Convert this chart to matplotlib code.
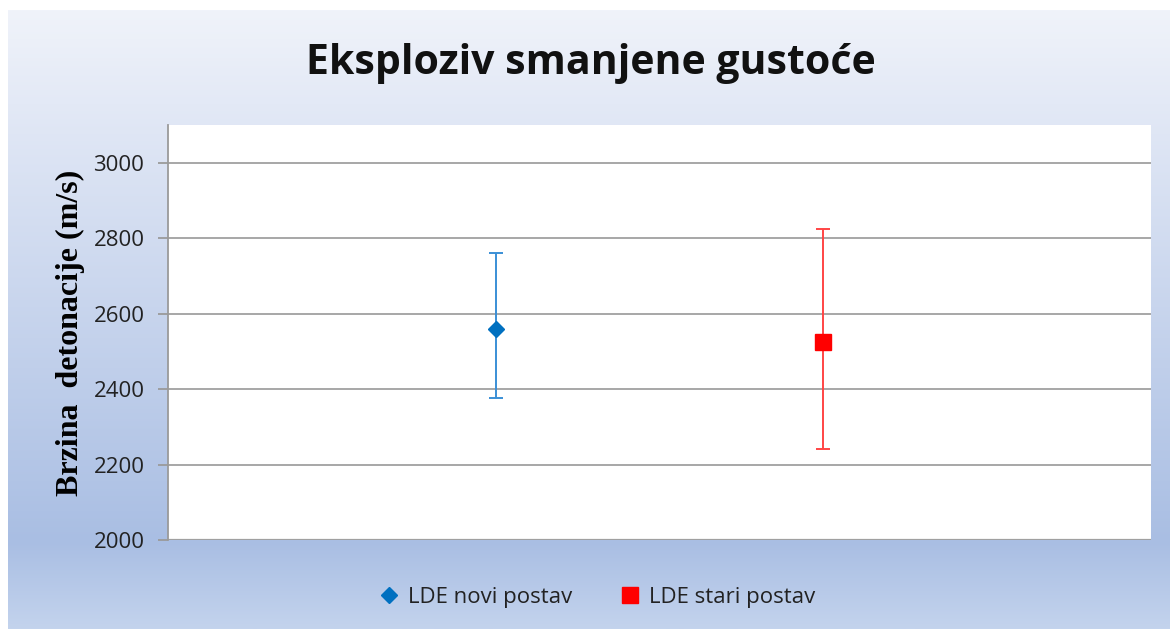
import numpy as np
import matplotlib
matplotlib.use("Agg")
import matplotlib.pyplot as plt
from matplotlib.colors import LinearSegmentedColormap

# ---- data ----
series = ["LDE novi postav", "LDE stari postav"]
x_pos = [1, 2]
means = [2560, 2526]
err_low = [184, 285]     # mean - lower whisker
err_high = [201, 298]    # upper whisker - mean
yticks = [2000, 2200, 2400, 2600, 2800, 3000]
title = "Eksploziv smanjene gustoće"
ylabel = "Brzina  detonacije (m/s)"

W, H = 1170, 629
fig = plt.figure(figsize=(W / 100, H / 100), dpi=100)
fig.patch.set_facecolor("white")

# gradient background panel
bg = fig.add_axes([8 / W, 0, 1 - 8 / W, (H - 10) / H], zorder=-5)
cmap = LinearSegmentedColormap.from_list(
    "bg",
    [(0.0, "#f0f3fa"), (0.15, "#e3e9f6"), (0.86, "#a9bee3"), (1.0, "#c3d3ed")],
)
grad = np.linspace(0, 1, 256).reshape(-1, 1)
bg.imshow(grad, aspect="auto", cmap=cmap, extent=[0, 1, 1, 0])
bg.set_xlim(0, 1)
bg.set_ylim(1, 0)
bg.axis("off")

# plot area
ax = fig.add_axes([168 / W, (H - 540) / H, (1151 - 168) / W, (540 - 125) / H])
ax.set_facecolor("white")
ax.set_xlim(0, 3)
ax.set_ylim(2000, 3100)
ax.set_yticks(yticks)
ax.set_xticks([])
ax.grid(axis="y", color="#a0a0a0", linewidth=1.3)
ax.set_axisbelow(True)
for s in ["top", "right"]:
    ax.spines[s].set_visible(False)
ax.spines["bottom"].set_visible(False)
ax.spines["left"].set_color("#9a9a9a")
ax.spines["left"].set_linewidth(1.3)
ax.axhline(2000, color="#a0a0a0", linewidth=1.6, zorder=1)
ax.tick_params(axis="y", length=7, width=1.3, color="#9a9a9a", pad=10,
               labelsize=16, labelcolor="#222222")
for lbl in ax.get_yticklabels():
    lbl.set_family("Open Sans")

# series
ax.errorbar([x_pos[0]], [means[0]], yerr=[[err_low[0]], [err_high[0]]],
            fmt="D", color="#0070c0", ecolor="#3a8fd6", elinewidth=1.4,
            capsize=5, capthick=1.4, markersize=8.5, label=series[0], zorder=3)
ax.errorbar([x_pos[1]], [means[1]], yerr=[[err_low[1]], [err_high[1]]],
            fmt="s", color="#ff0000", ecolor="#ff4545", elinewidth=1.4,
            capsize=5, capthick=1.4, markersize=12, label=series[1], zorder=3)

ax.set_ylabel(ylabel, family="Liberation Serif", fontweight="bold",
              fontsize=23, labelpad=6)

fig.text(591 / W, 1 - 63 / H, title, ha="center", va="center",
         family="Open Sans", fontweight="bold", fontsize=29.5, color="#111111")

handles, labels = ax.get_legend_handles_labels()
handles = [h[0] for h in handles]
leg = fig.legend(handles, labels, loc="center", bbox_to_anchor=(598 / W, 1 - 597 / H),
                 ncol=2, frameon=False, handlelength=0.8, handletextpad=0.45,
                 columnspacing=2.2, prop={"family": "Open Sans", "size": 16})
for t in leg.get_texts():
    t.set_color("#222222")

fig.savefig("out.png", dpi=100)
